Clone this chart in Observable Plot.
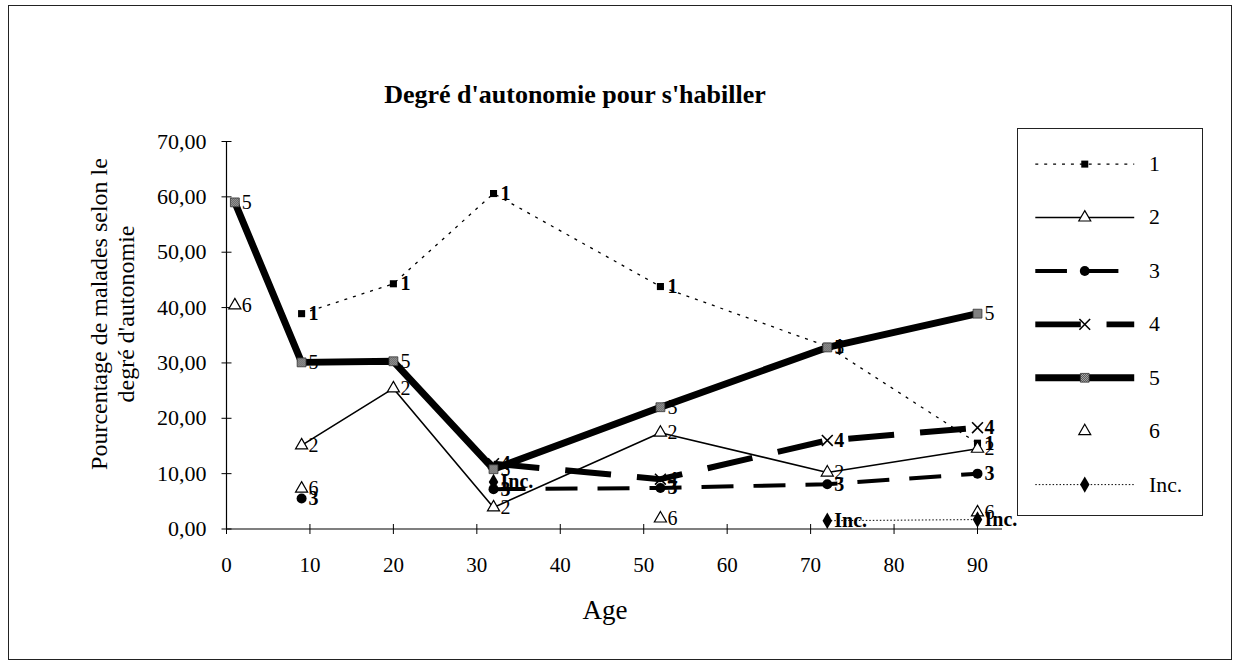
<!DOCTYPE html>
<html>
<head>
<meta charset="utf-8">
<script src="https://cdn.jsdelivr.net/npm/d3@7"></script>
<script src="https://cdn.jsdelivr.net/npm/@observablehq/plot@0.6"></script>
<style>
  body { margin: 0; background: #fff; }
  #wrap { position: relative; width: 1239px; height: 668px; overflow: hidden; background: #fff;
          font-family: "Liberation Serif", "DejaVu Serif", serif; color: #000; }
  #frame { position: absolute; left: 8px; top: 5px; width: 1224px; height: 655px;
           border: 1.5px solid #222; box-sizing: border-box; }
  #title { position: absolute; left: 0; width: 1150px; top: 80px; text-align: center;
           font-size: 26px; font-weight: bold; }
  #ylab { position: absolute; left: 113px; top: 314px; transform: translate(-50%, -50%) rotate(-90deg);
          font-size: 24px; text-align: center; line-height: 27px; white-space: nowrap; }
  #xlab { position: absolute; left: 605px; top: 595px; transform: translateX(-50%); font-size: 27px; }
  #main { position: absolute; left: 0; top: 0; }
  #legend { position: absolute; left: 1017px; top: 128px; width: 186px; height: 388px;
            border: 1.5px solid #222; box-sizing: border-box; background: #fff; }
  #legend svg { position: absolute; left: -1.5px; top: -1.5px; }
</style>
</head>
<body>
<div id="wrap">
  <div id="frame"></div>
  <div id="title">Degré d'autonomie pour s'habiller</div>
  <div id="ylab">Pourcentage de malades selon le<br>degré d'autonomie</div>
  <div id="xlab">Age</div>
  <div id="main"></div>
  <div id="legend"></div>
</div>
<script>
// ---- data ----
const ages = [1, 9, 20, 32, 52, 72, 90];
const seriesNames = ["1", "2", "3", "4", "5", "6", "Inc."];
const s1   = [null, 38.9, 44.3, 60.6, 43.8, 33.0, 15.5];
const s2   = [null, 15.1, 25.4, 3.9, 17.4, 10.2, 14.5];
const s3   = [null, 5.5, null, 7.2, 7.4, 8.1, 10.0];
const s4   = [null, null, null, 11.8, 9.0, 16.0, 18.3];
const s5   = [59.0, 30.1, 30.3, 10.8, 22.0, 32.8, 38.9];
const s6   = [40.4, 7.3, null, null, 1.9, null, 3.0];
const sInc = [null, null, null, 8.5, null, 1.5, 1.7];
const yTicks = [0, 10, 20, 30, 40, 50, 60, 70];
const xTicks = [0, 10, 20, 30, 40, 50, 60, 70, 80, 90];

const seriesValues = [s1, s2, s3, s4, s5, s6, sInc];

// ---- styles ----
const styles = {
  "1":    {line: true,  sw: 1.3, dash: "3,6",   symbol: "square",   r: 4,   fill: "#000", stroke: "none", lsw: 0,   bold: true},
  "2":    {line: true,  sw: 1.6, dash: null,    symbol: "triangle", r: 4.5, fill: "#fff", stroke: "#000", lsw: 1.2, bold: false},
  "3":    {line: true,  sw: 4,   dash: "32,20", symbol: "circle",   r: 5,   fill: "#000", stroke: "none", lsw: 0,   bold: true},
  "4":    {line: true,  sw: 6,   dash: "46,26", symbol: "times",    r: 5,   fill: "none", stroke: "#000", lsw: 1.6, bold: true},
  "5":    {line: true,  sw: 7,   dash: null,    symbol: "square",   r: 5,   fill: "url(#hatch)", stroke: "#333", lsw: 0.8, bold: false},
  "6":    {line: false, sw: 0,   dash: null,    symbol: "triangle", r: 4.5, fill: "#fff", stroke: "#000", lsw: 1.2, bold: false},
  "Inc.": {line: true,  sw: 1,   dash: "1.5,2", symbol: "diamond",  r: 5,   fill: "#000", stroke: "none", lsw: 0,   bold: true}
};

const rows = seriesNames.map((name, k) =>
  ages.map((age, i) => ({name, age, v: seriesValues[k][i] == null ? NaN : seriesValues[k][i]}))
);

const fmt = d => d.toFixed(2).replace(".", ",");
const hTick = {draw(c) { c.moveTo(-5, 0); c.lineTo(5, 0); }};
const vTick = {draw(c) { c.moveTo(0, -5); c.lineTo(0, 5); }};

const marks = [
  Plot.ruleX([0], {y1: 0, y2: 70, stroke: "#000", strokeWidth: 1.2}),
  Plot.ruleY([0], {x1: 0, x2: 93, stroke: "#000", strokeWidth: 1.2}),
  Plot.dot(yTicks, {x: () => 0, y: d => d, symbol: hTick, stroke: "#000", strokeWidth: 1}),
  Plot.dot(xTicks, {x: d => d, y: () => 0, symbol: vTick, stroke: "#000", strokeWidth: 1}),
  Plot.text(yTicks, {x: () => 0, y: d => d, text: fmt, dx: -20, textAnchor: "end", fontSize: 22, fill: "#000"}),
  Plot.text(xTicks, {x: d => d, y: () => 0, text: d => String(d), dy: 36, fontSize: 21, fill: "#000"})
];

seriesNames.forEach((name, k) => {
  const st = styles[name];
  if (st.line) {
    marks.push(Plot.line(rows[k], {x: "age", y: "v", stroke: "#000", strokeWidth: st.sw,
      strokeDasharray: st.dash, strokeLinecap: "butt", strokeLinejoin: "round"}));
  }
});
seriesNames.forEach((name, k) => {
  const st = styles[name];
  const data = rows[k].filter(d => !isNaN(d.v));
  marks.push(Plot.dot(data, {x: "age", y: "v", symbol: st.symbol, r: st.r, fill: st.fill,
    stroke: st.stroke, strokeWidth: st.lsw}));
  marks.push(Plot.text(data, {x: "age", y: "v", text: "name", dx: 7, textAnchor: "start",
    fontSize: 20, fontWeight: st.bold ? "bold" : "normal", fill: "#000"}));
});

const chart = Plot.plot({
  width: 1239, height: 668,
  marginLeft: 226, marginRight: 262, marginTop: 141, marginBottom: 139.5,
  x: {domain: [0, 90], axis: null},
  y: {domain: [0, 70], axis: null},
  style: {fontFamily: "'Liberation Serif', 'DejaVu Serif', serif", background: "transparent", overflow: "visible"},
  marks
});

function addPattern(svg, id) {
  const ns = "http://www.w3.org/2000/svg";
  const defs = document.createElementNS(ns, "defs");
  defs.innerHTML = '<pattern id="' + id + '" width="2" height="2" patternUnits="userSpaceOnUse">' +
    '<rect width="2" height="2" fill="#fff"/><rect width="1" height="1" fill="#000"/><rect x="1" y="1" width="1" height="1" fill="#000"/></pattern>';
  svg.insertBefore(defs, svg.firstChild);
}
addPattern(chart, "hatch");
document.getElementById("main").appendChild(chart);

// ---- legend ----
const legRows = seriesNames.flatMap(name => [{name, p: 0}, {name, p: 1}]);
const legMarks = [];
seriesNames.forEach(name => {
  const st = styles[name];
  if (st.line) {
    legMarks.push(Plot.line(legRows.filter(d => d.name === name), {x: "p", y: "name",
      stroke: "#000", strokeWidth: st.sw, strokeDasharray: st.dash, strokeLinecap: "butt"}));
  }
});
seriesNames.forEach(name => {
  const st = styles[name];
  legMarks.push(Plot.dot([{name, p: 0.5}], {x: "p", y: "name", symbol: st.symbol, r: st.r,
    fill: st.fill, stroke: st.stroke, strokeWidth: st.lsw}));
});
legMarks.push(Plot.text(seriesNames, {x: () => 1, y: d => d, text: d => d, dx: 15,
  textAnchor: "start", fontSize: 22, fill: "#000"}));

const legend = Plot.plot({
  width: 186, height: 388, margin: 0,
  x: {domain: [0, 1], range: [18, 118], axis: null},
  y: {type: "point", domain: seriesNames, range: [33, 362], padding: 0, axis: null},
  style: {fontFamily: "'Liberation Serif', 'DejaVu Serif', serif", background: "transparent"},
  marks: legMarks
});
addPattern(legend, "hatch2");
legend.querySelectorAll("[fill='url(#hatch)']").forEach(e => e.setAttribute("fill", "url(#hatch2)"));
document.getElementById("legend").appendChild(legend);
</script>
</body>
</html>
